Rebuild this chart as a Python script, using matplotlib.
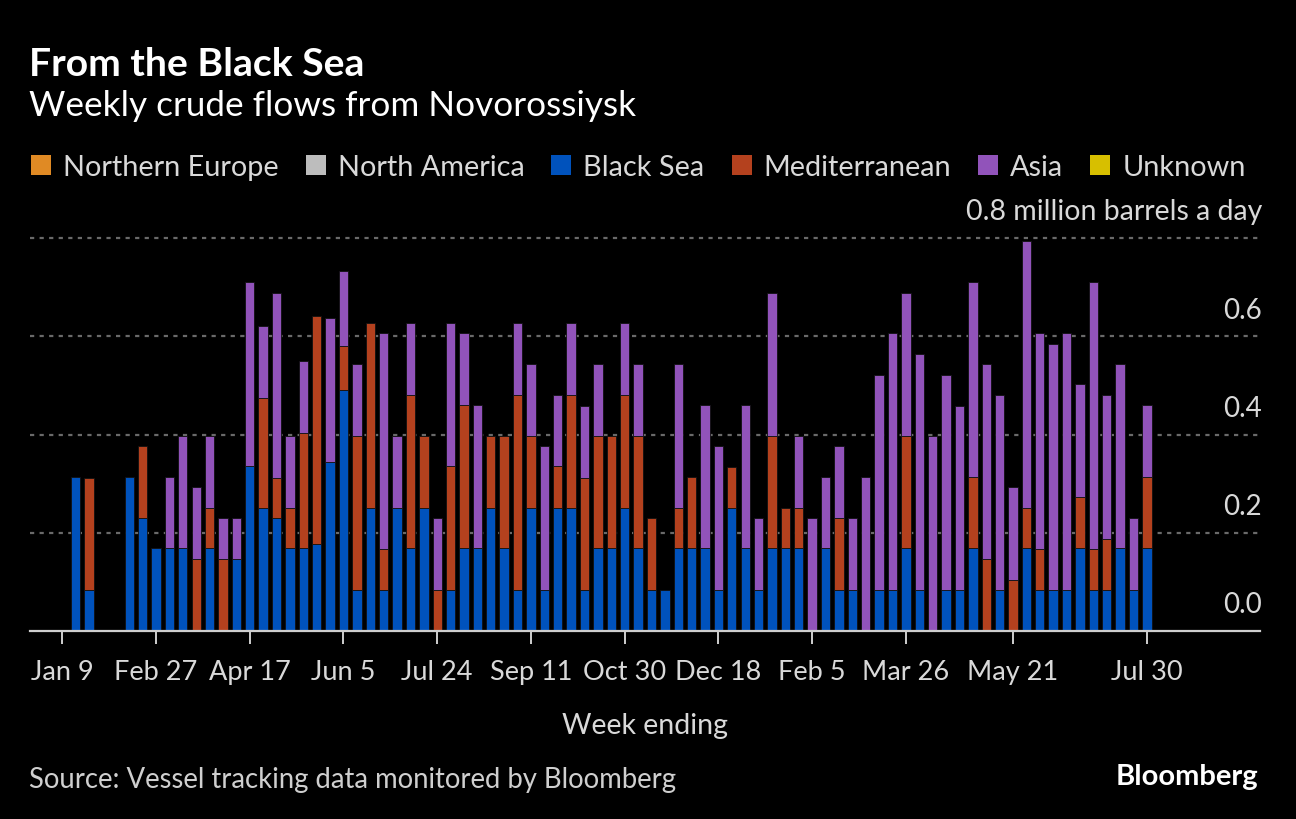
import matplotlib
matplotlib.use("Agg")
import matplotlib.pyplot as plt
from matplotlib.patches import Rectangle
import numpy as np
import pandas as pd

# ---------------- data ----------------
weeks = pd.date_range("2022-01-09", periods=82, freq="7D")

black_sea = [0, .314, .083, 0, 0, .314, .23, .168, .168, .168,
             0, .168, 0, .146, .335, .251, .23, .168, .168, .178,
             .345, .491, .083, .251, .083, .251, .168, .251, 0, .083,
             .168, .168, .251, .168, .083, .251, .083, .251, .251, .083,
             .168, .168, .251, .168, .083, .083, .168, .168, .168, .083,
             .251, .168, .083, .168, .168, .168, 0, .168, .083, .083,
             0, .083, .083, .168, .083, 0, .083, .083, .168, 0,
             .083, 0, .168, .083, .083, .083, .168, .083, .083, .168,
             .083, .168]

mediterranean = [0, 0, .229, 0, 0, 0, .146, 0, 0, 0,
                 .146, .083, .146, 0, 0, .224, .082, .083, .235, .464,
                 0, .09, .314, .375, .083, 0, .313, .146, .083, .252,
                 .292, 0, .146, .229, .397, .146, 0, .084, .229, .229,
                 .229, .229, .229, .229, .147, 0, .083, .146, 0, 0,
                 .082, 0, 0, .229, .083, .083, 0, 0, .147, 0,
                 0, 0, 0, .229, 0, 0, 0, 0, .146, .146,
                 0, .104, .083, .083, 0, 0, .104, .083, .105, 0,
                 0, .146]

asia = [0, 0, 0, 0, 0, 0, 0, 0, .146, .229,
        .147, .146, .084, .084, .376, .146, .377, .146, .146, 0,
        .293, .151, .146, 0, .44, .146, .146, 0, .147, .291,
        .146, .292, 0, 0, .146, .146, .293, .145, .146, .146,
        .146, 0, .146, .146, 0, 0, .292, 0, .292, .293,
        0, .292, .147, .292, 0, .146, .23, .146, .146, .147,
        .314, .439, .523, .292, .481, .397, .439, .375, .397, .397,
        .397, .189, .543, .44, .502, .523, .23, .544, .292, .375,
        .147, .146]

northern_europe = [0] * 82
north_america = [0] * 82
unknown = [0] * 82

series_names = ["Northern Europe", "North America", "Black Sea",
                "Mediterranean", "Asia", "Unknown"]
series_colors = ["#e08a24", "#bdbdbd", "#0052bc", "#b4411e", "#9153ba", "#d7bf00"]
stack_order = ["Black Sea", "Mediterranean", "Asia",
               "Northern Europe", "North America", "Unknown"]
series_values = {"Northern Europe": northern_europe, "North America": north_america,
                 "Black Sea": black_sea, "Mediterranean": mediterranean,
                 "Asia": asia, "Unknown": unknown}

tick_dates = ["2022-01-09", "2022-02-27", "2022-04-17", "2022-06-05", "2022-07-24",
              "2022-09-11", "2022-10-30", "2022-12-18", "2023-02-05", "2023-03-26",
              "2023-05-21", "2023-07-30"]
tick_labels = ["Jan 9", "Feb 27", "Apr 17", "Jun 5", "Jul 24", "Sep 11", "Oct 30",
               "Dec 18", "Feb 5", "Mar 26", "May 21", "Jul 30"]
y_ticks = [0.0, 0.2, 0.4, 0.6]
y_tick_labels = ["0.0", "0.2", "0.4", "0.6"]

# ---------------- figure ----------------
W, H = 1296, 820
FONT = "Lato"
plt.rcParams["font.family"] = [FONT, "DejaVu Sans"]

fig = plt.figure(figsize=(W / 100, H / 100), dpi=100, facecolor="black")

def fx(px):
    return px / W

def fy(py):
    return 1 - py / H

ax_left, ax_right = 30, 1260
y0_px, y08_px = 632, 239
ppu = (y0_px - y08_px) / 0.8
ytop = 0.82
ax = fig.add_axes([fx(ax_left), fy(y0_px), (ax_right - ax_left) / W, ytop * ppu / H])
ax.set_facecolor("black")

step = 13.39
x0 = 62.3
ax.set_xlim((ax_left - x0) / step, (ax_right - x0) / step)
ax.set_ylim(0, ytop)

idx = np.arange(len(weeks))
bottom = np.zeros(len(weeks))
for name in stack_order:
    vals = np.array(series_values[name], dtype=float)
    color = series_colors[series_names.index(name)]
    m = vals > 0
    if m.any():
        ax.bar(idx[m], vals[m], bottom=bottom[m], width=0.70, color=color,
               edgecolor="#111111", linewidth=0.6, zorder=3)
    bottom += vals

# grid lines
for v in y_ticks + [0.8]:
    if v == 0:
        continue
    ax.axhline(v, color="#6a6a6a", lw=1.6, ls=(0, (1.9, 2.4)), zorder=1, clip_on=False)

for s in ["top", "left", "right"]:
    ax.spines[s].set_visible(False)
ax.spines["bottom"].set_color("#cfcfcf")
ax.spines["bottom"].set_linewidth(1.6)
ax.spines["bottom"].set_zorder(4)

# x ticks
tick_pos = [list(weeks).index(pd.Timestamp(d)) for d in tick_dates]
ax.set_xticks(tick_pos)
ax.set_xticklabels(tick_labels)
ax.tick_params(axis="x", colors="#cfcfcf", length=9, width=1.4, pad=11,
               labelsize=19.5, labelcolor="#d9d9d9")
ax.set_yticks([])

ax.set_xlabel("Week ending", color="#d9d9d9", fontsize=20.5, labelpad=20)

# y labels (above gridlines, right aligned)
ytrans = ax.get_yaxis_transform()
for v, lab in zip(y_ticks, y_tick_labels):
    ax.annotate(lab, xy=(1.0, v), xycoords=ytrans, xytext=(1.5, 13.5),
                textcoords="offset points", ha="right", va="baseline",
                fontsize=20, color="#d9d9d9", annotation_clip=False)
ax.annotate("0.8 million barrels a day", xy=(1.0, 0.8), xycoords=ytrans,
            xytext=(1.5, 13.5), textcoords="offset points", ha="right",
            va="baseline", fontsize=20.5, color="#d9d9d9", annotation_clip=False)

# titles
fig.text(fx(29), fy(76), "From the Black Sea", color="white", fontsize=28.2,
         fontweight="bold", va="baseline", ha="left")
fig.text(fx(29), fy(116), "Weekly crude flows from Novorossiysk", color="white",
         fontsize=25.3, va="baseline", ha="left")

# legend (manual)
fig.canvas.draw()
renderer = fig.canvas.get_renderer()
xcur = 31
sq = 20
leg_mid = 166
for name, color in zip(series_names, series_colors):
    fig.patches.append(Rectangle((fx(xcur), fy(leg_mid + sq / 2)), sq / W, sq / H,
                                 transform=fig.transFigure, facecolor=color,
                                 edgecolor="none"))
    t = fig.text(fx(xcur + sq + 12), fy(leg_mid), name, color="#d9d9d9",
                 fontsize=20.8, va="center_baseline", ha="left")
    bb = t.get_window_extent(renderer)
    xcur = xcur + sq + 12 + bb.width + 27

# footer
fig.text(fx(29), fy(788), "Source: Vessel tracking data monitored by Bloomberg",
         color="#cfcfcf", fontsize=19.8, va="baseline", ha="left")
fig.text(fx(1258), fy(785), "Bloomberg", color="white", fontsize=21,
         fontweight="bold", va="baseline", ha="right")

fig.savefig("out.png", dpi=100, facecolor="black")
